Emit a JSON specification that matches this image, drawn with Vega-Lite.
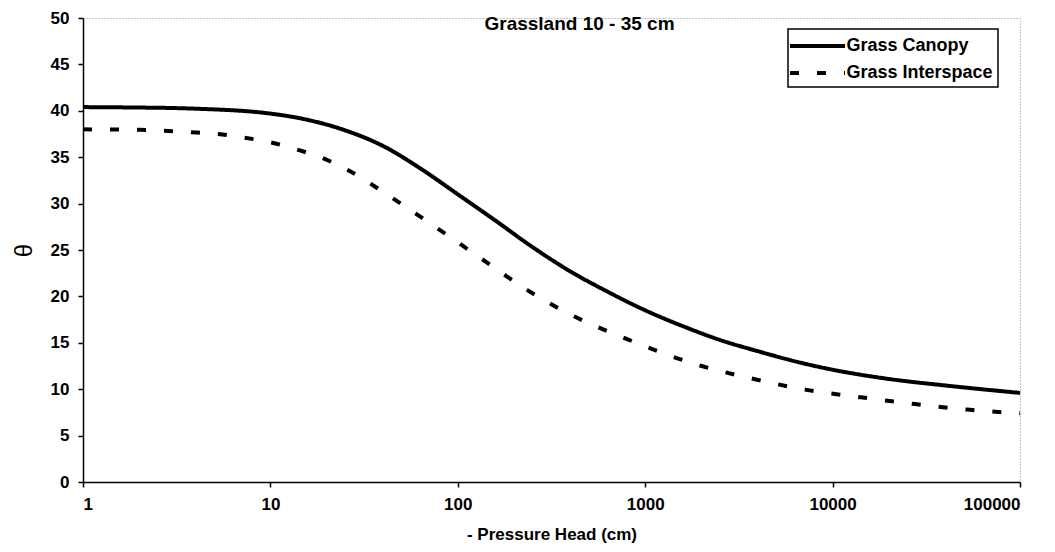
{
  "$schema": "https://vega.github.io/schema/vega-lite/v6.json",
  "width": 937,
  "height": 464,
  "autosize": {"type": "none"},
  "padding": {"left": 83, "top": 18, "right": 35, "bottom": 70},
  "background": "white",
  "title": {
    "text": "Grassland 10 - 35 cm",
    "anchor": "middle",
    "offset": -25,
    "dx": 28,
    "font": "Liberation Sans",
    "fontSize": 19,
    "fontWeight": "bold",
    "color": "black"
  },
  "data": {
    "values": [
      {"h": 1, "theta": 40.4, "series": "Grass Canopy"},
      {"h": 2, "theta": 40.35, "series": "Grass Canopy"},
      {"h": 3, "theta": 40.3, "series": "Grass Canopy"},
      {"h": 5, "theta": 40.15, "series": "Grass Canopy"},
      {"h": 7, "theta": 40.0, "series": "Grass Canopy"},
      {"h": 10, "theta": 39.7, "series": "Grass Canopy"},
      {"h": 16, "theta": 39.0, "series": "Grass Canopy"},
      {"h": 25, "theta": 37.9, "series": "Grass Canopy"},
      {"h": 40, "theta": 36.2, "series": "Grass Canopy"},
      {"h": 63, "theta": 33.8, "series": "Grass Canopy"},
      {"h": 100, "theta": 31.0, "series": "Grass Canopy"},
      {"h": 158, "theta": 28.2, "series": "Grass Canopy"},
      {"h": 251, "theta": 25.3, "series": "Grass Canopy"},
      {"h": 398, "theta": 22.7, "series": "Grass Canopy"},
      {"h": 631, "theta": 20.5, "series": "Grass Canopy"},
      {"h": 1000, "theta": 18.5, "series": "Grass Canopy"},
      {"h": 1585, "theta": 16.8, "series": "Grass Canopy"},
      {"h": 2512, "theta": 15.3, "series": "Grass Canopy"},
      {"h": 3981, "theta": 14.1, "series": "Grass Canopy"},
      {"h": 6310, "theta": 13.0, "series": "Grass Canopy"},
      {"h": 10000, "theta": 12.1, "series": "Grass Canopy"},
      {"h": 20000, "theta": 11.1, "series": "Grass Canopy"},
      {"h": 40000, "theta": 10.4, "series": "Grass Canopy"},
      {"h": 100000, "theta": 9.6, "series": "Grass Canopy"},
      {"h": 1, "theta": 38.0, "series": "Grass Interspace"},
      {"h": 2, "theta": 37.95, "series": "Grass Interspace"},
      {"h": 3.7, "theta": 37.7, "series": "Grass Interspace"},
      {"h": 5.2, "theta": 37.5, "series": "Grass Interspace"},
      {"h": 7.3, "theta": 37.1, "series": "Grass Interspace"},
      {"h": 10, "theta": 36.6, "series": "Grass Interspace"},
      {"h": 14, "theta": 35.8, "series": "Grass Interspace"},
      {"h": 19, "theta": 34.9, "series": "Grass Interspace"},
      {"h": 26, "theta": 33.6, "series": "Grass Interspace"},
      {"h": 44, "theta": 30.7, "series": "Grass Interspace"},
      {"h": 77, "theta": 27.4, "series": "Grass Interspace"},
      {"h": 135, "theta": 24.0, "series": "Grass Interspace"},
      {"h": 234, "theta": 20.7, "series": "Grass Interspace"},
      {"h": 433, "theta": 17.7, "series": "Grass Interspace"},
      {"h": 800, "theta": 15.4, "series": "Grass Interspace"},
      {"h": 1100, "theta": 14.3, "series": "Grass Interspace"},
      {"h": 1500, "theta": 13.3, "series": "Grass Interspace"},
      {"h": 2000, "theta": 12.5, "series": "Grass Interspace"},
      {"h": 3800, "theta": 11.1, "series": "Grass Interspace"},
      {"h": 7400, "theta": 9.9, "series": "Grass Interspace"},
      {"h": 14500, "theta": 9.1, "series": "Grass Interspace"},
      {"h": 27500, "theta": 8.4, "series": "Grass Interspace"},
      {"h": 52500, "theta": 7.8, "series": "Grass Interspace"},
      {"h": 100000, "theta": 7.4, "series": "Grass Interspace"}
    ]
  },
  "mark": {"type": "line", "interpolate": "monotone", "strokeWidth": 4, "color": "black"},
  "encoding": {
    "x": {
      "field": "h",
      "type": "quantitative",
      "scale": {"type": "log", "domain": [1, 100000]},
      "axis": {
        "title": "- Pressure Head (cm)",
        "values": [1, 10, 100, 1000, 10000, 100000],
        "format": "d",
        "grid": false,
        "tickSize": 5,
        "labelPadding": 9,
        "titlePadding": 14
      }
    },
    "y": {
      "field": "theta",
      "type": "quantitative",
      "scale": {"domain": [0, 50], "nice": false},
      "axis": {
        "title": "θ",
        "values": [0, 5, 10, 15, 20, 25, 30, 35, 40, 45, 50],
        "grid": false,
        "tickSize": 5,
        "labelPadding": 9,
        "titleFontWeight": "normal",
        "titleFontSize": 24,
        "titlePadding": 14
      }
    },
    "strokeDash": {
      "field": "series",
      "type": "nominal",
      "scale": {
        "domain": ["Grass Canopy", "Grass Interspace"],
        "range": [[1, 0], [9, 18]]
      },
      "legend": {"title": null}
    }
  },
  "config": {
    "view": {"stroke": "#888888", "strokeDash": [1, 2], "strokeWidth": 1},
    "axis": {
      "domainColor": "black",
      "domainWidth": 1.5,
      "tickColor": "black",
      "tickWidth": 1.5,
      "labelFont": "Liberation Sans",
      "labelFontSize": 17,
      "labelFontWeight": "bold",
      "labelColor": "black",
      "titleFont": "Liberation Sans",
      "titleFontSize": 17,
      "titleFontWeight": "bold",
      "titleColor": "black"
    },
    "legend": {
      "orient": "none",
      "legendX": 705,
      "legendY": 11,
      "strokeColor": "black",
      "strokeWidth": 1.5,
      "padding": 5,
      "symbolType": "M-2.75,0H2.75",
      "symbolSize": 400,
      "symbolStrokeWidth": 4,
      "symbolStrokeColor": "black",
      "symbolOffset": 12.5,
      "labelFont": "Liberation Sans",
      "labelFontSize": 18,
      "labelFontWeight": "bold",
      "labelColor": "black",
      "labelOffset": 17,
      "rowPadding": 6
    }
  }
}
